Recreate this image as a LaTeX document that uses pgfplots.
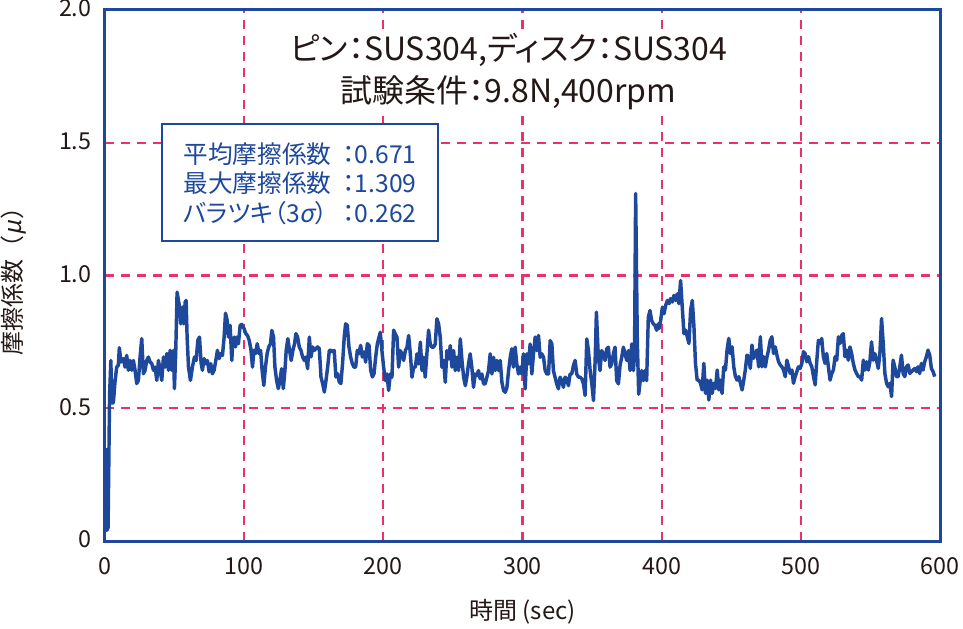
\documentclass[border=0pt]{standalone}
\usepackage{fontspec}
\setmainfont{Noto Sans CJK JP}[RawFeature=+palt]
\newfontfamily\slfont{Noto Sans CJK JP}[FakeSlant=0.2]
\newfontfamily\fwfont{Noto Sans CJK JP}
\usepackage{pgfplots}
\pgfplotsset{compat=1.18}
\definecolor{lineblue}{RGB}{30,72,155}
\definecolor{gridpink}{RGB}{232,50,110}
\definecolor{txt}{RGB}{35,24,21}
\begin{document}
\begin{tikzpicture}
\useasboundingbox (-78.75pt,-65.25pt) rectangle (643.5pt,405.75pt);
\begin{axis}[
  at={(0,0)}, anchor=south west,
  scale only axis, width=626.25pt, height=398.25pt,
  xmin=0, xmax=600, ymin=0, ymax=2,
  xtick={0,100,200,300,400,500,600},
  ytick={0,0.5,1,1.5,2}, yticklabels={0,0.5,1.0,1.5,2.0},
  major tick length=0pt,
  xmajorgrids, ymajorgrids,
  grid style={draw=gridpink, line width=1.55pt, dash pattern=on 7pt off 5pt},
  major grid style={draw=gridpink, line width=1.55pt, dash pattern=on 7pt off 5pt},
  axis line style={lineblue, line width=2.25pt},
  /pgf/number format/assume math mode=true,
  tick label style={font=\fontsize{17.5}{19}\selectfont, text=txt},
  xticklabel style={yshift=-9pt},
  yticklabel style={xshift=-9pt, yshift=-1.5pt, text height=0.72em, text depth=0pt, inner sep=1pt},
  xlabel={時間 (sec)},
  ylabel={\fwfont 摩擦係数（{\slfont μ}）},
  label style={font=\fontsize{18}{20}\selectfont, text=txt},
  xlabel style={at={(axis description cs:0.5,-0.133)}, anchor=center},
  ylabel style={at={(axis description cs:-0.110,0.5)}, anchor=center},
]
\addplot[lineblue, line width=2.6pt, line join=round] coordinates {
(0.5,0.35)(1.3,0.04)(2.2,0.05)(3.3,0.55)(4.2,0.68)(4.9,0.52)(6.0,0.52)(7.2,0.60)(8.4,0.655)(9.6,0.662)(10.3,0.728)(11.5,0.674)(13.2,0.687)(14.4,0.655)(15.6,0.699)(16.8,0.643)(18.0,0.680)(19.2,0.643)(20.4,0.680)(21.6,0.643)(22.8,0.593)(24.0,0.605)(25.2,0.693)(26.4,0.762)(27.6,0.630)(28.8,0.643)(30.0,0.680)(31.2,0.693)(32.4,0.674)(33.6,0.668)(34.8,0.643)(36.0,0.655)(37.2,0.605)(38.4,0.680)(39.6,0.643)(40.8,0.605)(42.0,0.693)(43.2,0.655)(44.4,0.706)(45.6,0.643)(46.8,0.718)(48.0,0.643)(49.2,0.718)(49.9,0.574)(50.8,0.706)(51.8,0.937)(53.2,0.893)(54.4,0.818)(55.6,0.881)(56.6,0.818)(57.6,0.900)(58.3,0.906)(59.0,0.768)(60.0,0.655)(61.4,0.605)(62.8,0.655)(64.3,0.693)(65.5,0.680)(66.7,0.756)(67.9,0.768)(69.1,0.668)(70.0,0.643)(71.2,0.687)(72.4,0.668)(73.6,0.680)(74.8,0.637)(76.0,0.668)(77.2,0.630)(78.4,0.643)(79.6,0.680)(80.8,0.718)(82.0,0.687)(83.2,0.706)(84.4,0.699)(85.6,0.768)(86.6,0.858)(87.8,0.831)(88.7,0.768)(89.9,0.812)(91.1,0.680)(91.8,0.743)(92.8,0.768)(93.8,0.731)(94.7,0.768)(95.9,0.743)(97.1,0.812)(98.3,0.816)(100.0,0.799)(101.2,0.781)(102.4,0.774)(103.6,0.756)(104.8,0.724)(106.0,0.655)(107.0,0.718)(108.2,0.706)(109.4,0.743)(110.6,0.706)(111.8,0.718)(112.9,0.643)(114.1,0.586)(115.3,0.655)(116.5,0.706)(117.7,0.731)(118.9,0.743)(119.9,0.793)(121.1,0.768)(122.1,0.655)(123.3,0.605)(124.5,0.574)(125.7,0.605)(126.9,0.649)(128.1,0.574)(129.3,0.643)(130.2,0.718)(131.4,0.762)(132.6,0.718)(133.8,0.680)(135.0,0.718)(136.2,0.743)(137.2,0.781)(138.4,0.768)(139.6,0.731)(140.8,0.718)(142.0,0.693)(143.2,0.680)(144.4,0.693)(145.6,0.649)(146.8,0.768)(148.0,0.693)(149.2,0.731)(150.4,0.718)(151.6,0.724)(152.8,0.731)(154.0,0.724)(155.2,0.618)(156.4,0.593)(157.6,0.561)(158.8,0.605)(160.0,0.655)(161.2,0.718)(162.4,0.718)(163.5,0.712)(164.7,0.718)(165.9,0.618)(167.1,0.630)(168.3,0.599)(169.5,0.593)(170.7,0.668)(171.9,0.768)(172.9,0.818)(174.1,0.812)(175.3,0.731)(176.5,0.693)(177.7,0.668)(178.9,0.655)(180.1,0.655)(181.3,0.718)(182.5,0.706)(183.7,0.737)(184.9,0.693)(186.1,0.712)(187.3,0.674)(188.5,0.743)(189.7,0.737)(190.9,0.643)(192.1,0.618)(193.3,0.630)(194.5,0.693)(195.7,0.743)
(197.8,0.786)(199.0,0.717)(200.2,0.655)(201.4,0.604)(202.6,0.629)(203.8,0.567)(205.0,0.629)(206.2,0.617)(207.4,0.794)(208.6,0.780)(209.8,0.768)(211.0,0.655)(212.2,0.717)(213.4,0.705)(214.6,0.680)(215.8,0.717)(217.0,0.730)(218.2,0.774)(219.4,0.705)(220.6,0.617)(221.8,0.655)(223.0,0.655)(224.2,0.705)(225.4,0.667)(226.6,0.749)(227.8,0.642)(229.0,0.692)(230.1,0.617)(231.3,0.705)(232.5,0.794)(233.7,0.742)(234.9,0.730)(236.1,0.730)(237.3,0.742)(238.5,0.837)(239.7,0.818)(240.9,0.768)(242.1,0.655)(243.3,0.680)(244.5,0.598)(245.7,0.717)(246.9,0.686)(248.1,0.736)(249.3,0.655)(250.5,0.717)(251.7,0.642)(252.9,0.692)(254.1,0.642)(255.3,0.761)(256.5,0.680)(257.7,0.617)(258.9,0.585)(260.0,0.617)(261.2,0.667)(262.4,0.705)(263.6,0.655)(264.8,0.579)(266.0,0.629)(267.2,0.623)(268.4,0.642)(269.6,0.611)(270.8,0.629)(272.0,0.592)(273.2,0.592)(274.4,0.617)(275.6,0.642)(276.8,0.705)(278.0,0.629)(279.2,0.692)(280.4,0.642)(281.6,0.680)(282.8,0.642)(284.0,0.680)(285.2,0.598)(286.4,0.567)(287.6,0.560)(288.8,0.579)(290.0,0.642)(291.2,0.692)(292.3,0.724)(293.5,0.655)(294.7,0.730)(295.9,0.667)(297.1,0.629)(298.3,0.655)(299.5,0.629)(300.7,0.705)(301.9,0.573)(303.1,0.705)(304.3,0.667)(305.5,0.742)(306.7,0.629)(307.9,0.705)(309.1,0.768)(310.3,0.717)(311.5,0.774)(312.7,0.692)(313.9,0.705)(315.1,0.692)(316.3,0.642)(317.5,0.629)(318.7,0.629)(319.9,0.755)(321.1,0.742)(322.2,0.642)(323.4,0.617)(324.6,0.592)(325.8,0.573)(327.0,0.617)(328.2,0.604)(329.4,0.579)(330.6,0.617)(331.8,0.611)(333.0,0.585)(334.2,0.629)(335.4,0.629)(336.6,0.661)(337.8,0.680)(339.0,0.629)(340.2,0.617)(341.4,0.617)(342.6,0.611)(343.8,0.592)(345.0,0.548)(346.2,0.761)(347.4,0.717)(348.6,0.642)(349.8,0.592)(351.0,0.529)(352.2,0.680)(353.1,0.862)(354.5,0.692)(355.7,0.642)(356.9,0.717)(358.1,0.705)(359.3,0.680)(360.5,0.724)(361.7,0.730)(362.9,0.655)(364.1,0.667)(365.3,0.705)(366.5,0.730)(367.7,0.604)(368.9,0.592)(370.1,0.661)(371.3,0.692)(372.5,0.730)(373.7,0.705)(374.9,0.680)(376.1,0.717)(377.3,0.642)(378.5,0.742)(379.7,0.642)(380.5,0.700)(381.3,1.309)(382.5,0.750)(383.5,0.553)(384.5,0.600)(385.6,0.642)(386.8,0.604)(388.0,0.642)(389.2,0.604)(390.4,0.843)(391.6,0.868)(392.8,0.830)(394.0,0.818)(395.2,0.812)(396.4,0.794)(397.6,0.818)
(398.1,0.800)(399.3,0.831)(400.5,0.881)(401.7,0.856)(402.9,0.888)(404.1,0.906)(405.3,0.894)(406.4,0.913)(407.6,0.900)(408.8,0.925)(410.0,0.906)(411.2,0.931)(412.4,0.894)(413.6,0.981)(414.8,0.881)(416.0,0.781)(417.2,0.794)(418.4,0.769)(419.6,0.744)(420.8,0.869)(422.0,0.906)(423.2,0.806)(424.3,0.669)(425.5,0.606)(426.7,0.606)(427.9,0.594)(429.1,0.569)(430.3,0.669)(431.5,0.556)(432.7,0.606)(433.9,0.531)(435.1,0.606)(436.3,0.556)(437.5,0.594)(438.7,0.575)(439.9,0.644)(441.1,0.569)(442.2,0.606)(443.4,0.556)(444.6,0.656)(445.8,0.644)(447.0,0.719)(448.2,0.763)(449.4,0.706)(450.6,0.731)(451.8,0.656)(453.0,0.619)(454.2,0.606)(455.4,0.619)(456.6,0.594)(457.8,0.569)(459.0,0.606)(460.1,0.644)(461.3,0.700)(462.5,0.694)(463.7,0.650)(464.9,0.738)(466.1,0.688)(467.3,0.706)(468.5,0.719)(469.7,0.656)(470.9,0.769)(472.1,0.656)(473.3,0.694)(474.5,0.656)(475.7,0.694)(476.8,0.719)(478.0,0.756)(479.2,0.769)(480.4,0.706)(481.6,0.731)(482.8,0.700)(484.0,0.675)(485.2,0.663)(486.4,0.656)(487.6,0.644)(488.8,0.619)(490.0,0.681)(491.2,0.656)(492.4,0.631)(493.6,0.644)(494.7,0.594)(495.9,0.619)(497.1,0.638)(498.3,0.656)(499.5,0.650)(500.7,0.669)(501.9,0.713)(503.1,0.706)(504.3,0.675)(505.5,0.694)(506.7,0.669)(507.9,0.656)(509.1,0.619)(510.3,0.588)(511.5,0.681)(512.6,0.756)(513.8,0.744)(515.0,0.763)(516.2,0.694)(517.4,0.669)(518.6,0.706)(519.8,0.656)(521.0,0.606)(522.2,0.631)(523.4,0.644)(524.6,0.694)(525.8,0.681)(527.0,0.769)(528.2,0.744)(529.4,0.775)(530.5,0.781)(531.7,0.694)(532.9,0.719)(534.1,0.681)(535.3,0.731)(536.5,0.706)(537.7,0.669)(538.9,0.644)(540.1,0.631)(541.3,0.619)(542.5,0.619)(543.7,0.606)(544.9,0.681)(546.1,0.644)(547.3,0.675)(548.5,0.644)(549.6,0.675)(550.8,0.750)(552.0,0.681)(553.2,0.706)(554.4,0.681)(555.6,0.650)(556.8,0.706)(558.0,0.838)(559.2,0.744)(560.4,0.631)(561.6,0.594)(562.8,0.581)(564.0,0.594)(565.2,0.544)(566.3,0.681)(567.5,0.656)(568.7,0.619)(569.9,0.619)(571.1,0.656)(572.3,0.700)(573.5,0.631)(574.7,0.619)(575.9,0.656)(577.1,0.663)(578.3,0.631)(579.5,0.638)(580.7,0.644)(581.9,0.650)(583.1,0.638)(584.2,0.656)(585.4,0.631)(586.6,0.669)(587.8,0.644)(589.0,0.675)(590.2,0.694)(591.4,0.719)(592.6,0.700)(593.8,0.650)(595.0,0.638)(596.2,0.619)
};
\node[fill=white, align=center, text=txt, inner sep=3pt,
  font=\fontsize{24}{31.5}\selectfont] at (axis cs:290,1.77)
  {ピン：SUS304,ディスク：SUS304\\試験条件：9.8N,400rpm};
\node[draw=lineblue, line width=1.6pt, fill=white,
  minimum width=207pt, minimum height=88pt, inner sep=0pt] at (axis cs:140.1,1.35) {};
\node[text=lineblue, inner sep=0pt, yshift=-3.5pt,
  font=\fontsize{18.5}{22.2}\selectfont] at (axis cs:140.1,1.35)
  {\begin{tabular}{@{}l@{\hspace{0.45em}}l@{}}
   平均摩擦係数 & ：0.671\\
   最大摩擦係数 & ：1.309\\
   バラツキ（3{\slfont σ}） & ：0.262
  \end{tabular}};
\end{axis}
\end{tikzpicture}
\end{document}
